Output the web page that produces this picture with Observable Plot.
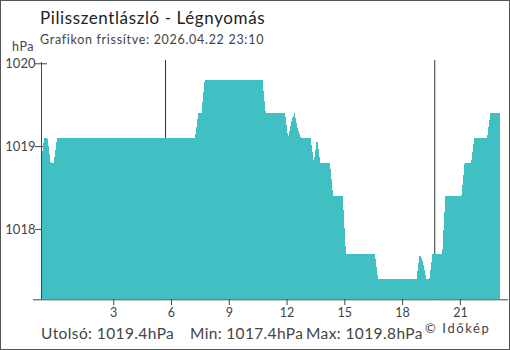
<!DOCTYPE html>
<html><head><meta charset="utf-8">
<script src="https://cdn.jsdelivr.net/npm/d3@7"></script>
<script src="https://cdn.jsdelivr.net/npm/@observablehq/plot@0.6"></script>
<style>
html,body{margin:0;padding:0;background:#fff;}
#wrap{position:relative;width:510px;height:350px;overflow:hidden;font-family:Lato,sans-serif;color:#333;}
#frame{position:absolute;left:0;top:0;width:508px;height:348px;border:1px solid #555;pointer-events:none;}
.t{position:absolute;white-space:nowrap;line-height:1;}
</style></head><body>
<div id="wrap">
  <div id="chart" style="position:absolute;left:0;top:0"></div>
  <div class="t" id="title" style="left:40px;top:9px;font-size:17px;letter-spacing:0.6px;color:#222"></div>
  <div class="t" id="subtitle" style="left:40px;top:34px;font-size:12.5px;letter-spacing:0.7px;color:#444"></div>
  <div class="t" id="unit" style="left:12px;top:41px;font-size:12.5px;letter-spacing:0.6px;color:#444"></div>
  <div class="t" id="stat0" style="left:41px;top:326px;font-size:15.5px;letter-spacing:0.4px;color:#444"></div>
  <div class="t" id="stat1" style="left:190px;top:326px;font-size:15.5px;letter-spacing:0.35px;color:#444"></div>
  <div class="t" id="stat2" style="left:306px;top:326px;font-size:15.5px;letter-spacing:0.4px;color:#444"></div>
  <div class="t" id="credit" style="left:425px;top:322px;font-size:13px;letter-spacing:1.6px;color:#444"></div>
  <div id="frame"></div>
</div>
<script>
// Texts
const titleText = "Pilisszentlászló - Légnyomás";
const subtitleText = "Grafikon frissítve: 2026.04.22 23:10";
const unitLabel = "hPa";
const statTexts = ["Utolsó: 1019.4hPa", "Min: 1017.4hPa", "Max: 1019.8hPa"];
const creditText = "© Időkép";

// Time grid: 10-minute samples, hours relative to midnight (first sample 23:15 previous day)
const startHour = -0.75;
const stepHours = 1 / 6;

// Pressure readings (hPa), one per 10 minutes
const pressure = [
  1018.8, 1019.1, 1019.1, 1018.8, 1018.8, 1019.1, 1019.1, 1019.1, 1019.1, 1019.1,
  1019.1, 1019.1, 1019.1, 1019.1, 1019.1, 1019.1, 1019.1, 1019.1, 1019.1, 1019.1,
  1019.1, 1019.1, 1019.1, 1019.1, 1019.1, 1019.1, 1019.1, 1019.1, 1019.1, 1019.1,
  1019.1, 1019.1, 1019.1, 1019.1, 1019.1, 1019.1, 1019.1, 1019.1, 1019.1, 1019.1,
  1019.1, 1019.1, 1019.1, 1019.1, 1019.1, 1019.1, 1019.1, 1019.1, 1019.1, 1019.4,
  1019.4, 1019.8, 1019.8, 1019.8, 1019.8, 1019.8, 1019.8, 1019.8, 1019.8, 1019.8,
  1019.8, 1019.8, 1019.8, 1019.8, 1019.8, 1019.8, 1019.8, 1019.8, 1019.8, 1019.8,
  1019.4, 1019.4, 1019.4, 1019.4, 1019.4, 1019.4, 1019.4, 1019.1, 1019.3, 1019.4,
  1019.2, 1019.1, 1019.1, 1019.1, 1019.1, 1018.8, 1019.1, 1018.8, 1018.8, 1018.8,
  1018.8, 1018.4, 1018.4, 1018.4, 1018.4, 1017.7, 1017.7, 1017.7, 1017.7, 1017.7,
  1017.7, 1017.7, 1017.7, 1017.7, 1017.7, 1017.4, 1017.4, 1017.4, 1017.4, 1017.4,
  1017.4, 1017.4, 1017.4, 1017.4, 1017.4, 1017.4, 1017.4, 1017.4, 1017.7, 1017.6,
  1017.4, 1017.4, 1017.7, 1017.7, 1017.7, 1017.7, 1018.4, 1018.4, 1018.4, 1018.4,
  1018.4, 1018.4, 1018.8, 1018.8, 1018.8, 1019.1, 1019.1, 1019.1, 1019.1, 1019.1,
  1019.4, 1019.4, 1019.4, 1019.4
];

// Sunrise / sunset markers (hours)
const sunEvents = [5.69, 19.67];

// Axis ticks
const xTicks = [3, 6, 9, 12, 15, 18, 21];
const yTicks = [1018, 1019, 1020];

const yMin = 1017.15, yMax = 1020.1, sunTop = 1020.04;
const xDomain = [startHour, startHour + (pressure.length - 1) * stepHours];

const data = pressure.map((v, i) => ({t: startHour + i * stepHours, v}));

document.getElementById("title").textContent = titleText;
document.getElementById("subtitle").textContent = subtitleText;
document.getElementById("unit").textContent = unitLabel;
statTexts.forEach((s, i) => document.getElementById("stat" + i).textContent = s);
document.getElementById("credit").textContent = creditText;

const axisColor = "#444";
const chart = Plot.plot({
  width: 510,
  height: 350,
  marginTop: 55,
  marginBottom: 51,
  marginLeft: 41,
  marginRight: 2,
  style: {fontFamily: "Lato, sans-serif", color: axisColor, background: "transparent"},
  x: {domain: xDomain, range: [41, 500]},
  y: {domain: [yMin, yMax], range: [299.3, 55]},
  marks: [
    Plot.ruleX(sunEvents, {x: d => d, y1: yMin, y2: sunTop, stroke: "#333", strokeWidth: 1}),
    Plot.axisY({ticks: yTicks, tickSize: 12, dx: 6, tickFormat: () => "", label: null, stroke: axisColor}),
    Plot.areaY(data, {x: "t", y1: yMin, y2: "v", fill: "#40c0c2", shapeRendering: "crispEdges"}),
    Plot.ruleX([startHour], {y1: yMin, y2: yMax, insetBottom: -7, stroke: axisColor}),
    Plot.ruleY([yMin], {insetLeft: -8, stroke: axisColor}),
    Plot.axisX({ticks: xTicks, tickSize: 6, tickPadding: 3, fontSize: 12.5, tickFormat: d => String(d), label: null, stroke: axisColor, fill: axisColor}),
    Plot.axisY({ticks: yTicks, tickSize: 0, tickPadding: 6, fontSize: 13, tickFormat: d => String(d), label: null, fill: axisColor})
  ]
});
document.getElementById("chart").appendChild(chart);
</script>
</body></html>
